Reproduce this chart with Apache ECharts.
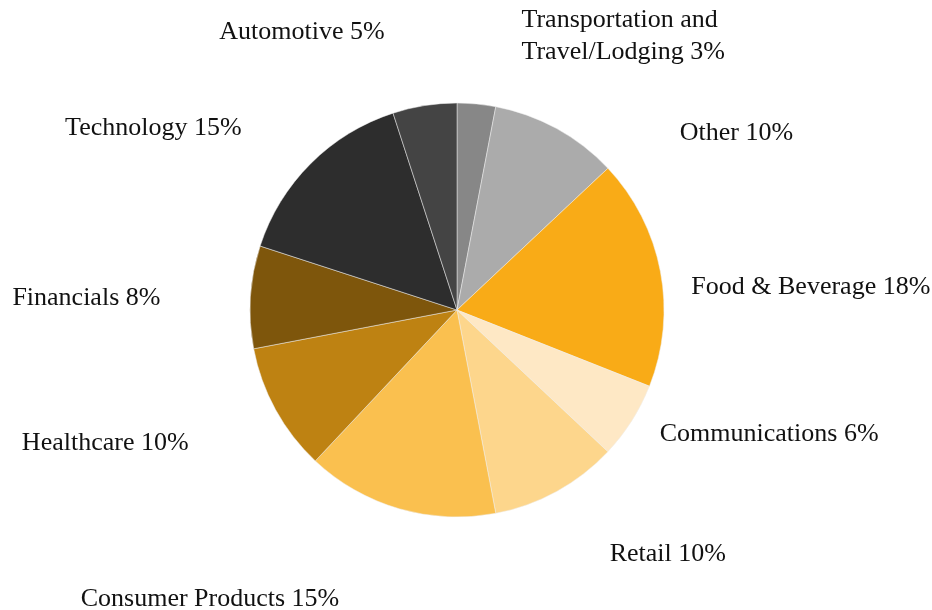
<!DOCTYPE html>
<html>
<head>
<meta charset="utf-8">
<script src="https://cdn.jsdelivr.net/npm/echarts@6/dist/echarts.min.js"></script>
<style>
  html, body { margin: 0; padding: 0; background: #fff; }
  #chart { width: 932px; height: 610px; }
</style>
</head>
<body>
<div id="chart"></div>
<script>
// slices clockwise from 12 o'clock
const sectors = [
  "Transportation and\nTravel/Lodging",
  "Other",
  "Food & Beverage",
  "Communications",
  "Retail",
  "Consumer Products",
  "Healthcare",
  "Financials",
  "Technology",
  "Automotive"
];
const shares = [3, 10, 18, 6, 10, 15, 10, 8, 15, 5];
const sliceColors = [
  "#878787", "#ababab", "#f9ab17", "#fee8c5", "#fdd68c",
  "#fac04f", "#be8212", "#7e560c", "#2d2d2d", "#444444"
];
// label nudges (px) from the default outside spot, same order as sectors
const labelNudge = [
  [40, -68], [118, 5], [26, 16], [23, 13], [48, 63],
  [-55, 90], [-82, 33], [-85, 1], [-64, -35], [-35, -73]
];

const chart = echarts.init(document.getElementById("chart"));

chart.setOption({
  animation: false,
  color: sliceColors,
  series: [
    {
      type: "pie",
      center: [457, 310],
      radius: 207,
      startAngle: 90,
      clockwise: true,
      avoidLabelOverlap: false,
      minShowLabelAngle: 0,
      itemStyle: { borderColor: "#eeeeee", borderWidth: 0.5 },
      label: {
        show: true,
        position: "outside",
        formatter: "{b} {c}%",
        fontFamily: "Liberation Serif",
        fontSize: 26,
        color: "#111111",
        lineHeight: 32
      },
      labelLine: { show: false, length: 0, length2: 0 },
      labelLayout: (p) => ({
        dx: labelNudge[p.dataIndex][0],
        dy: labelNudge[p.dataIndex][1],
        hideOverlap: false,
        moveOverlap: null
      }),
      emphasis: { disabled: true },
      data: sectors.map((name, i) => ({ name: name, value: shares[i] }))
    }
  ]
});
</script>
</body>
</html>
